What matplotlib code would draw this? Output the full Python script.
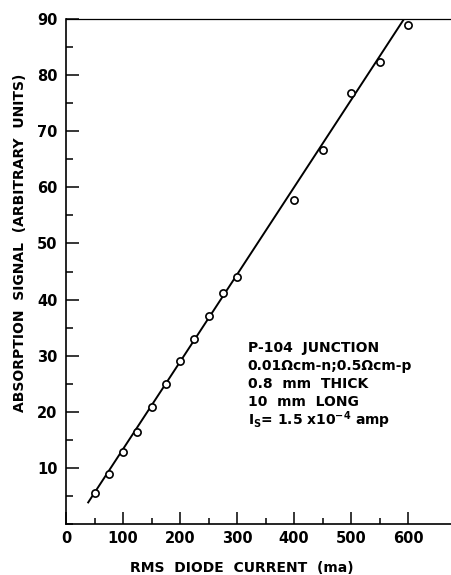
import matplotlib
matplotlib.use("Agg")
import matplotlib.pyplot as plt
from matplotlib.ticker import MultipleLocator, FixedLocator

# Data
current_ma = [50, 75, 100, 125, 150, 175, 200, 225, 250, 275, 300, 400, 450, 500, 550, 600]
signal = [5.5, 8.9, 12.9, 16.4, 20.8, 25.0, 29.0, 33.0, 37.0, 41.1, 44.0, 57.7, 66.7, 76.8, 82.4, 88.9]
fit_x = [38, 593]
fit_y = [3.7, 90]

x_ticks = [0, 100, 200, 300, 400, 500, 600]
x_minor = [50, 150, 250, 350, 450, 550]
y_ticks = [10, 20, 30, 40, 50, 60, 70, 80, 90]

note_lines = [
    "P-104  JUNCTION",
    "0.01\u03a9cm-n;0.5\u03a9cm-p",
    "0.8  mm  THICK",
    "10  mm  LONG",
    r"I$_\mathbf{S}$= 1.5 x10$^{\mathbf{-4}}$ amp",
]

W, H = 451, 575
fig = plt.figure(figsize=(W / 100, H / 100), dpi=100)
L, R, T, B = 66, 451, 19, 524
ax = fig.add_axes([L / W, 1 - B / H, (R - L) / W, (B - T) / H])

ax.plot(fit_x, fit_y, color="black", lw=1.4, solid_capstyle="butt", zorder=2)
ax.plot(current_ma, signal, linestyle="none", marker="o", markersize=5.2,
        markerfacecolor="white", markeredgecolor="black", markeredgewidth=1.2, zorder=3)

ax.set_xlim(0, (R - L) / 0.57)
ax.set_ylim(0, 90)

ax.spines["right"].set_visible(False)
for s in ["left", "bottom"]:
    ax.spines[s].set_linewidth(1.2)
ax.spines["top"].set_linewidth(0.9)

ax.set_xticks(x_ticks)
ax.set_xticklabels([str(v) for v in x_ticks])
ax.set_yticks(y_ticks)
ax.set_yticklabels([str(v) for v in y_ticks])
ax.xaxis.set_minor_locator(FixedLocator(x_minor))
ax.yaxis.set_minor_locator(MultipleLocator(5))

ax.tick_params(axis="x", which="major", direction="in", length=9, width=1.1, pad=5,
               top=False, labelsize=10.5)
ax.tick_params(axis="x", which="minor", direction="in", length=4, width=1.1, top=False)
ax.tick_params(axis="y", which="major", direction="in", length=9, width=1.1, pad=6,
               right=False, labelsize=10.5)
ax.tick_params(axis="y", which="minor", direction="in", length=5, width=1.1, right=False)
for lab in ax.get_xticklabels() + ax.get_yticklabels():
    lab.set_fontweight("bold")

# annotation block
x0 = 319
y0 = 31.3
dy = 18 / 5.61
for i, line in enumerate(note_lines):
    ax.text(x0, y0 - i * dy, line, fontsize=10, fontweight="bold",
            va="center", ha="left", color="black")

fig.text(242 / W, 1 - 568 / H, "RMS  DIODE  CURRENT  (ma)", fontsize=10,
         fontweight="bold", ha="center", va="center")
fig.text(20 / W, 1 - 243 / H, "ABSORPTION  SIGNAL  (ARBITRARY  UNITS)", fontsize=10,
         fontweight="bold", ha="center", va="center", rotation=90)

fig.savefig("out.png", dpi=100)
